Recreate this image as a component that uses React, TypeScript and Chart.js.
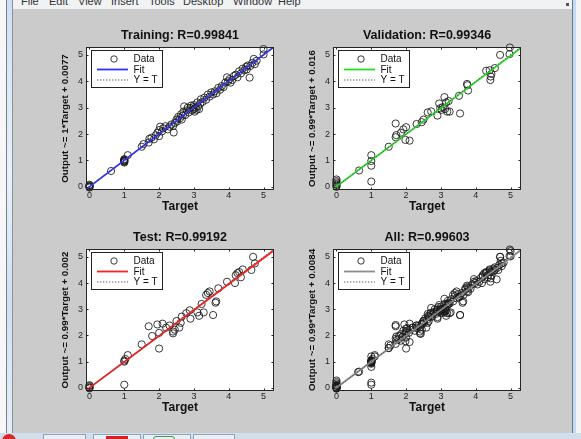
import React, { useEffect, useRef } from "react";
import { Chart, registerables } from "chart.js";

Chart.register(...registerables);

// ---------------- data ----------------
const tickValues = [0, 1, 2, 3, 4, 5];
const axisXMin = -0.1;
const axisXMax = 5.3;
const axisYMin = -0.12;
const axisYMax = 5.3;

const trainTarget = [
  0, 0, 0, 0, 0, 0,
  1, 1, 1, 1, 1, 1, 1,
  0.62, 1.1,
  1.5, 1.55, 1.7, 1.72, 1.78, 1.85, 1.9, 1.95, 2.0, 2.0, 2.03, 2.08, 2.12, 2.18, 2.25, 2.3, 2.35, 2.4, 2.42, 2.45,
  2.5, 2.52, 2.55, 2.6, 2.63, 2.65, 2.68, 2.7, 2.72, 2.75, 2.8, 2.82, 2.85, 2.9, 2.92, 2.95, 2.98, 3.0, 3.0, 3.02,
  3.05, 3.08, 3.1, 3.12, 3.15, 3.18, 3.2, 3.25, 3.3, 3.35, 3.4, 3.45, 3.5, 3.55, 3.6, 3.65, 3.7, 3.75, 3.8, 3.85,
  3.9, 3.95, 3.98, 4.02, 4.05, 4.1, 4.15, 4.2, 4.25, 4.3, 4.35, 4.4, 4.45, 4.5, 4.52, 4.55, 4.6, 4.62, 4.68, 4.72,
  4.75, 4.8, 5.0, 5.0,
];
const trainOutput = [
  0, 0.02, -0.03, 0.05, 0.08, 0.01,
  0.95, 1.0, 0.97, 1.03, 0.92, 1.05, 0.99,
  0.6, 1.2,
  1.52, 1.62, 1.68, 1.82, 1.86, 1.8, 1.95, 2.05, 1.92, 2.15, 2.28, 2.1, 2.22, 2.3, 2.18, 2.28, 2.36, 2.3, 2.06, 2.42,
  2.55, 2.48, 2.65, 2.6, 2.75, 2.55, 2.7, 2.85, 3.05, 2.72, 2.9, 3.0, 2.82, 2.98, 3.08, 2.9, 3.02, 2.95, 3.1, 2.85,
  3.0, 2.92, 3.2, 3.05, 2.95, 3.15, 3.32, 3.22, 3.38, 3.3, 3.5, 3.42, 3.58, 3.5, 3.62, 3.55, 3.75, 3.68, 3.82, 3.78,
  3.95, 4.15, 4.0, 4.08, 3.95, 4.05, 4.2, 4.25, 4.15, 4.38, 4.3, 4.48, 4.42, 4.55, 4.45, 4.6, 4.14, 4.58, 4.7, 4.85,
  4.65, 4.78, 5.22, 5.02,
];

const valTarget = [
  0, 0, 0, 0, 0, 0, 0,
  0.65, 1, 1, 1, 1,
  1.5, 1.7, 1.7, 1.72, 1.85, 1.92, 2.0, 1.98, 2.1, 2.3, 2.45, 2.5, 2.62, 2.72, 2.9, 2.95, 2.98, 3.02, 3.05,
  3.1, 3.12, 3.15, 3.18, 3.22, 3.25, 3.52, 3.55, 3.75, 3.76, 3.78, 4.3, 4.4, 4.42, 4.43, 4.45, 4.55, 4.7,
  4.97, 4.98,
];
const valOutput = [
  0, 0.04, 0.08, 0.12, 0.17, 0.22, 0.28,
  0.62, 0.2, 0.8, 0.98, 1.2,
  1.52, 2.4, 1.88, 1.96, 2.05, 2.18, 2.26, 1.78, 1.75, 2.38, 2.45, 2.55, 2.82, 2.86, 2.7, 3.16, 2.98, 2.92, 3.02,
  3.4, 2.95, 3.2, 2.85, 3.25, 2.85, 3.45, 2.78, 3.9, 3.85, 3.65, 4.4, 4.42, 4.05, 4.18, 4.28, 4.5, 5.0,
  5.03, 5.28,
];

const testTarget = [
  0, 0, 0, 0, 0,
  1, 1, 1, 1.03, 1.1,
  1.5, 1.7, 1.8, 1.95, 2.0, 2.0, 2.1, 2.2, 2.3, 2.4, 2.4, 2.45, 2.5, 2.58, 2.62, 2.65, 2.78, 2.88, 2.9,
  3.1, 3.15, 3.22, 3.28, 3.35, 3.4, 3.45, 3.55, 3.62, 3.64, 3.7, 3.95, 4.18, 4.2, 4.25, 4.3, 4.35, 4.4,
  4.65, 4.7, 4.75,
];
const testOutput = [
  0, 0.03, 0.07, 0.1, -0.02,
  0.12, 1.0, 1.04, 1.1, 1.25,
  1.66, 2.35, 1.98, 2.42, 2.1, 1.5, 2.45, 2.3, 2.38, 2.15, 2.08, 2.22, 2.55, 2.3, 2.48, 2.72, 2.85, 2.96, 2.64,
  2.88, 2.75, 3.2, 2.88, 3.55, 3.62, 3.68, 2.78, 3.25, 3.3, 3.8, 4.05, 4.0, 4.3, 4.38, 4.42, 4.22, 4.52,
  4.5, 5.0, 4.75,
];

const allTarget = [...trainTarget, ...valTarget, ...testTarget];
const allOutput = [...trainOutput, ...valOutput, ...testOutput];

const panelTargets = [trainTarget, valTarget, testTarget, allTarget];
const panelOutputs = [trainOutput, valOutput, testOutput, allOutput];
const panelTitles = [
  "Training: R=0.99841",
  "Validation: R=0.99346",
  "Test: R=0.99192",
  "All: R=0.99603",
];
const panelYTitles = [
  "Output ~= 1*Target + 0.0077",
  "Output ~= 0.99*Target + 0.016",
  "Output ~= 0.99*Target + 0.002",
  "Output ~= 0.99*Target + 0.0084",
];
const fitSlopes = [1, 0.99, 0.99, 0.99];
const fitIntercepts = [0.0077, 0.016, 0.002, 0.0084];
const fitColors = ["#2f2fff", "#22e022", "#ff2020", "#8c8c8c"];
const xAxisTitle = "Target";
const legendLabels = ["Data", "Fit", "Y = T"];
const menuItems = ["File", "Edit", "View", "Insert", "Tools", "Desktop", "Window", "Help"];

// ---------------- layout ----------------
const FONT = '"Liberation Sans", Arial, sans-serif';
const Y_SCALE_W = 20;
const X_SCALE_H = 10;

type Box = { x: number; y: number; w: number; h: number };
type Area = { l: number; t: number; r: number; b: number };

const canvasBoxes: Box[] = [
  { x: 20, y: 15, w: 270, h: 205 },
  { x: 290, y: 15, w: 270, h: 205 },
  { x: 20, y: 222, w: 270, h: 205 },
  { x: 290, y: 222, w: 270, h: 205 },
];
const plotAreas: Area[] = [
  { l: 86, t: 47, r: 274, b: 190 },
  { l: 333, t: 47, r: 521, b: 190 },
  { l: 86, t: 249, r: 274, b: 391 },
  { l: 333, t: 249, r: 521, b: 391 },
];
const menuX = [21, 49, 78, 111, 149, 183, 233, 278];

function Panel({ idx }: { idx: number }) {
  const ref = useRef<HTMLCanvasElement | null>(null);
  const box = canvasBoxes[idx];
  const area = plotAreas[idx];

  useEffect(() => {
    if (!ref.current) return;
    const targets = panelTargets[idx];
    const outputs = panelOutputs[idx];
    const pts = targets.map((t, i) => ({ x: t, y: outputs[i] }));
    const m = fitSlopes[idx];
    const c = fitIntercepts[idx];
    const fitPts = [
      { x: axisXMin, y: m * axisXMin + c },
      { x: axisXMax, y: m * axisXMax + c },
    ];
    const idealPts = [
      { x: axisXMin, y: axisXMin },
      { x: axisXMax, y: axisXMax },
    ];
    const color = fitColors[idx];

    const panelPlugin = {
      id: "panelDecor" + idx,
      beforeDatasetsDraw(chart: any) {
        const a = chart.chartArea;
        const ctx = chart.ctx;
        ctx.save();
        ctx.fillStyle = "#ffffff";
        ctx.fillRect(a.left, a.top, a.right - a.left, a.bottom - a.top);
        ctx.restore();
      },
      afterDatasetsDraw(chart: any) {
        const a = chart.chartArea;
        const ctx = chart.ctx;
        const xs = chart.scales.x;
        const ys = chart.scales.y;
        ctx.save();
        // box
        ctx.strokeStyle = "#262626";
        ctx.lineWidth = 1;
        ctx.strokeRect(Math.round(a.left) + 0.5, Math.round(a.top) + 0.5,
          Math.round(a.right - a.left) - 1, Math.round(a.bottom - a.top) - 1);
        // inward ticks
        const tl = 2.5;
        ctx.beginPath();
        tickValues.forEach((v) => {
          const px = Math.round(xs.getPixelForValue(v)) + 0.5;
          ctx.moveTo(px, a.bottom);
          ctx.lineTo(px, a.bottom - tl);
          ctx.moveTo(px, a.top);
          ctx.lineTo(px, a.top + tl);
          const py = Math.round(ys.getPixelForValue(v)) + 0.5;
          ctx.moveTo(a.left, py);
          ctx.lineTo(a.left + tl, py);
          ctx.moveTo(a.right, py);
          ctx.lineTo(a.right - tl, py);
        });
        ctx.stroke();

        // legend
        const lx = Math.round(a.left + 5) + 0.5;
        const ly = Math.round(a.top + 3) + 0.5;
        const lw = 71;
        const lh = 37;
        ctx.fillStyle = "#ffffff";
        ctx.fillRect(lx, ly, lw, lh);
        ctx.strokeStyle = "#222222";
        ctx.lineWidth = 1;
        ctx.strokeRect(lx, ly, lw, lh);
        const rows = [ly + 8.5, ly + 19, ly + 29.5];
        const sx1 = lx + 5.5;
        const sx2 = lx + 36.5;
        // data marker
        ctx.beginPath();
        ctx.strokeStyle = "rgba(25,25,25,0.85)";
        ctx.arc(lx + 22.5, rows[0], 3.2, 0, Math.PI * 2);
        ctx.stroke();
        // fit line
        ctx.beginPath();
        ctx.strokeStyle = color;
        ctx.lineWidth = 1.8;
        ctx.moveTo(sx1, rows[1]);
        ctx.lineTo(sx2, rows[1]);
        ctx.stroke();
        // Y = T
        ctx.beginPath();
        ctx.strokeStyle = "#555555";
        ctx.lineWidth = 1;
        ctx.setLineDash([1.3, 1.7]);
        ctx.moveTo(sx1, rows[2]);
        ctx.lineTo(sx2, rows[2]);
        ctx.stroke();
        ctx.setLineDash([]);
        ctx.fillStyle = "#111111";
        ctx.font = "10px " + FONT;
        ctx.textAlign = "left";
        ctx.textBaseline = "middle";
        legendLabels.forEach((lab, i) => ctx.fillText(lab, lx + 42, rows[i] + 0.5));
        ctx.restore();
      },
      afterDraw(chart: any) {
        const a = chart.chartArea;
        const ctx = chart.ctx;
        const cx = (a.left + a.right) / 2;
        ctx.save();
        ctx.fillStyle = "#111111";
        ctx.textAlign = "center";
        ctx.textBaseline = "middle";
        ctx.font = "bold 12.5px " + FONT;
        ctx.fillText(panelTitles[idx], cx, a.top - 11.5);
        ctx.font = "bold 12px " + FONT;
        ctx.fillText(xAxisTitle, cx, a.bottom + 17);
        ctx.font = "bold 9.8px " + FONT;
        ctx.translate(a.left - 21, (a.top + a.bottom) / 2);
        ctx.rotate(-Math.PI / 2);
        ctx.fillText(panelYTitles[idx], 0, 0);
        ctx.restore();
      },
    };

    const setTicks = (s: any) => {
      s.ticks = tickValues.map((v) => ({ value: v }));
    };

    const chart = new Chart(ref.current, {
      type: "scatter",
      data: {
        datasets: [
          {
            type: "line",
            data: idealPts,
            borderColor: "#555555",
            borderDash: [1.3, 1.7],
            borderWidth: 1,
            pointRadius: 0,
            fill: false,
            tension: 0,
          },
          {
            type: "line",
            data: fitPts,
            borderColor: color,
            borderWidth: 1.8,
            pointRadius: 0,
            fill: false,
            tension: 0,
          },
          {
            type: "scatter",
            data: pts,
            pointStyle: "circle",
            pointRadius: 3.6,
            borderColor: "rgba(25,25,25,0.85)",
            backgroundColor: "rgba(0,0,0,0)",
            borderWidth: 1,
            clip: false,
          },
        ],
      } as any,
      options: {
        animation: false,
        responsive: false,
        maintainAspectRatio: false,
        devicePixelRatio: 1,
        events: [],
        layout: {
          padding: {
            left: area.l - box.x - Y_SCALE_W,
            top: area.t - box.y,
            right: box.x + box.w - area.r,
            bottom: box.y + box.h - area.b - X_SCALE_H,
          },
        },
        plugins: {
          legend: { display: false },
          tooltip: { enabled: false },
          title: { display: false },
        },
        scales: {
          x: {
            type: "linear",
            min: axisXMin,
            max: axisXMax,
            grid: { display: false, drawTicks: false },
            border: { display: false },
            ticks: {
              color: "#262626",
              font: { family: FONT, size: 9, lineHeight: 1 },
              padding: 1,
              maxRotation: 0,
              autoSkip: false,
            },
            afterBuildTicks: setTicks,
            afterFit: (s: any) => {
              s.height = X_SCALE_H;
            },
          },
          y: {
            type: "linear",
            min: axisYMin,
            max: axisYMax,
            grid: { display: false, drawTicks: false },
            border: { display: false },
            ticks: {
              color: "#262626",
              font: { family: FONT, size: 9, lineHeight: 1 },
              padding: 3,
              autoSkip: false,
            },
            afterBuildTicks: setTicks,
            afterFit: (s: any) => {
              s.width = Y_SCALE_W;
            },
          },
        },
      } as any,
      plugins: [panelPlugin],
    });
    return () => chart.destroy();
  }, [idx]);

  return (
    <canvas
      ref={ref}
      width={box.w}
      height={box.h}
      style={{ position: "absolute", left: box.x, top: box.y, width: box.w, height: box.h }}
    />
  );
}

export default function App() {
  return (
    <div
      style={{
        position: "fixed",
        left: 0,
        top: 0,
        width: 581,
        height: 439,
        overflow: "hidden",
        background: "#cbcbcb",
        fontFamily: FONT,
      }}
    >
      {/* menu bar */}
      <div style={{ position: "absolute", left: 0, top: 0, width: 581, height: 9, background: "#f1f2f4" }} />
      {menuItems.map((m, i) => (
        <div
          key={m}
          style={{
            position: "absolute",
            left: menuX[i],
            top: -5,
            fontSize: 11,
            lineHeight: "13px",
            color: "#333",
            whiteSpace: "nowrap",
          }}
        >
          {m}
        </div>
      ))}
      <div style={{ position: "absolute", left: 566, top: 3, width: 3, height: 3, background: "#555" }} />
      {/* left frame */}
      <div style={{ position: "absolute", left: 0, top: 0, width: 6, height: 433, background: "#f7f7f7" }} />
      <div style={{ position: "absolute", left: 6, top: 0, width: 1, height: 433, background: "#7a7f88" }} />
      <div
        style={{
          position: "absolute",
          left: 7,
          top: 0,
          width: 5,
          height: 433,
          background: "linear-gradient(to bottom, #cfe0f4, #e9f1fb 40%, #cfe0f4 70%, #e6eef8)",
        }}
      />
      <div style={{ position: "absolute", left: 12, top: 0, width: 1, height: 433, background: "#8d9096" }} />
      {/* right frame */}
      <div style={{ position: "absolute", left: 572, top: 0, width: 1, height: 433, background: "#6e7784" }} />
      <div style={{ position: "absolute", left: 573, top: 0, width: 3, height: 433, background: "#c6d9f0" }} />
      <div style={{ position: "absolute", left: 576, top: 0, width: 5, height: 433, background: "#f4f4f4" }} />
      {/* taskbar */}
      <div style={{ position: "absolute", left: 0, top: 433, width: 581, height: 6, background: "#d3deec" }} />
      <div style={{ position: "absolute", left: 2, top: 434, width: 14, height: 14, borderRadius: 7, background: "#d42a2a" }} />
      <div style={{ position: "absolute", left: 43, top: 434, width: 41, height: 10, border: "1px solid #8ea2bd", background: "#e9eff7" }} />
      <div style={{ position: "absolute", left: 93, top: 434, width: 46, height: 10, border: "1px solid #8ea2bd", background: "#e9eff7" }} />
      <div style={{ position: "absolute", left: 106, top: 436, width: 22, height: 8, background: "#d62020" }} />
      <div style={{ position: "absolute", left: 143, top: 434, width: 46, height: 10, border: "1px solid #8ea2bd", background: "#e9eff7" }} />
      <div style={{ position: "absolute", left: 153, top: 436, width: 20, height: 8, borderRadius: 3, border: "1px solid #3aa03a" }} />
      <div style={{ position: "absolute", left: 193, top: 434, width: 40, height: 10, border: "1px solid #8ea2bd", background: "#e9eff7" }} />
      {[0, 1, 2, 3].map((i) => (
        <Panel key={i} idx={i} />
      ))}
    </div>
  );
}
